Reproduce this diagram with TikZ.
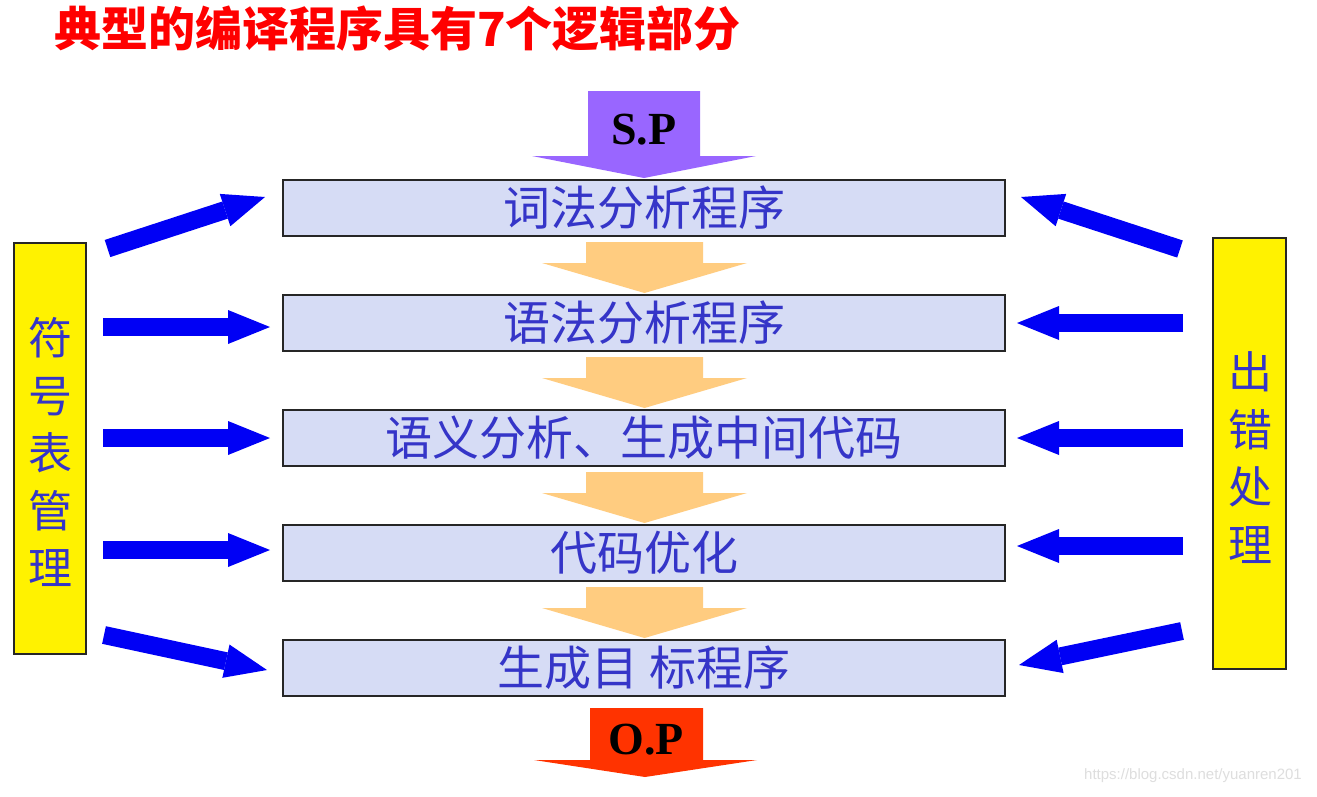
\documentclass[tikz,border=0pt]{standalone}
\usepackage{fontspec}
\setmainfont{Liberation Serif}
\newfontfamily\cjk{Noto Sans CJK SC}
\newfontfamily\wmfont{Liberation Sans}
\usetikzlibrary{arrows.meta}
\definecolor{procfill}{HTML}{D6DCF5}
\definecolor{proctext}{HTML}{3535C8}
\definecolor{barrowc}{HTML}{0000F5}
\definecolor{spc}{HTML}{9966FF}
\definecolor{orc}{HTML}{FFCC80}
\definecolor{opc}{HTML}{FF3300}
\definecolor{titlered}{HTML}{FF0000}
\begin{document}
\begin{tikzpicture}[x=1pt,y=-1pt,
  proc/.style={draw=black!85, line width=2pt, fill=procfill, minimum width=722pt,
    minimum height=56pt, inner sep=0pt, text=proctext, font=\cjk\fontsize{47}{47}\selectfont},
  side/.style={draw=black!85, line width=2pt, fill=yellow, inner sep=0pt},
  sidetext/.style={text=proctext, font=\cjk\fontsize{44}{57.5}\selectfont, align=center, inner sep=0pt},
  barrow/.style={draw=barrowc, line width=18pt, -{Triangle[length=42pt,width=34pt,line width=0pt]}},
  bigtext/.style={text=black, font=\fontsize{46}{46}\selectfont\bfseries, inner sep=0pt}]
\useasboundingbox (0,0) rectangle (1317,796);
\fill[white] (0,0) rectangle (1317,796);

% title
\node[text=titlered, font=\cjk\fontsize{47}{47}\selectfont\bfseries, inner sep=0pt] (title) at (397.5,29) {典型的编译程序具有7个逻辑部分};

% process boxes
\node[proc] (b1) at (644,208) {词法分析程序};
\node[proc] (b2) at (644,323) {语法分析程序};
\node[proc] (b3) at (644,438) {语义分析、生成中间代码};
\node[proc] (b4) at (644,553) {代码优化};
\node[proc] (b5) at (644,668) {生成目\hspace{0.25em}标程序};

% S.P arrow
\fill[spc] (588,91) -- (700,91) -- (700,156) -- (756,156) -- (644,178) -- (532,156) -- (588,156) -- cycle;
\node[bigtext] (sp) at (644,130) {S.P};

% orange arrows between stages
\foreach \b in {236,351,466,581}{
  \fill[orc] (586,\b+6) -- (703,\b+6) -- (703,\b+27) -- (747,\b+27) -- (644.5,\b+57) -- (542,\b+27) -- (586,\b+27) -- cycle;
}

% O.P arrow
\fill[opc] (590,708) -- (703,708) -- (703,760) -- (757,760) -- (645,777) -- (534,760) -- (590,760) -- cycle;
\node[bigtext] (op) at (646,740) {O.P};

% side boxes
\node[side, minimum width=72pt, minimum height=411pt] (sym) at (50,448.5) {};
\node[sidetext] (symt) at (50,452) {符\\号\\表\\管\\理};
\node[side, minimum width=73pt, minimum height=431pt] (err) at (1249.5,453.5) {};
\node[sidetext] (errt) at (1250,457.5) {出\\错\\处\\理};

% left arrows
\coordinate (L1s) at (107.5,248.5); \coordinate (L1e) at (265,197);
\coordinate (L2s) at (103,327);     \coordinate (L2e) at (270,327);
\coordinate (L3s) at (103,438);     \coordinate (L3e) at (270,438);
\coordinate (L4s) at (103,550);     \coordinate (L4e) at (270,550);
\coordinate (L5s) at (104,635);     \coordinate (L5e) at (267,670);
\foreach \i in {1,...,5}{ \draw[barrow] (L\i s) -- (L\i e); }

% right arrows
\coordinate (R1s) at (1180,249);    \coordinate (R1e) at (1021,197);
\coordinate (R2s) at (1183,323);    \coordinate (R2e) at (1017,323);
\coordinate (R3s) at (1183,438);    \coordinate (R3e) at (1017,438);
\coordinate (R4s) at (1183,546);    \coordinate (R4e) at (1017,546);
\coordinate (R5s) at (1182,631);    \coordinate (R5e) at (1019,665);
\foreach \i in {1,...,5}{ \draw[barrow] (R\i s) -- (R\i e); }

% watermark
\node[text=black!13, font=\wmfont\fontsize{15}{15}\selectfont, inner sep=0pt] (wm) at (1193,776) {https://blog.csdn.net/yuanren201};
\end{tikzpicture}
\end{document}
